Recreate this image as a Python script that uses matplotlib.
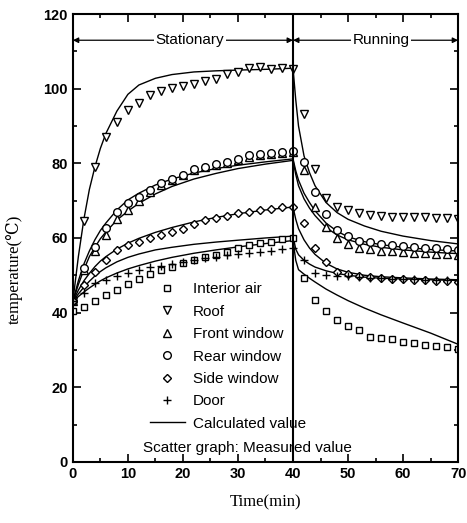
import matplotlib.pyplot as plt
from matplotlib.lines import Line2D

# measured values (scatter)
t_stat = [0, 2, 4, 6, 8, 10, 12, 14, 16, 18, 20, 22, 24, 26, 28, 30, 32, 34, 36, 38, 40]
t_run = [42, 44, 46, 48, 50, 52, 54, 56, 58, 60, 62, 64, 66, 68, 70]

interior_stat = [40.5, 41.6, 43.2, 44.6, 46.1, 47.7, 49, 50.4, 51.4, 52.3, 53.2, 54.1, 55, 55.4, 56.3, 57.2, 58.1, 58.6, 59, 59.6, 59.9]
interior_run = [49.2, 43.4, 40.3, 38, 36.4, 35.4, 33.4, 33.1, 32.9, 32.2, 31.8, 31.3, 31.1, 30.7, 30.2]
roof_stat = [43, 64.5, 79, 87, 91.2, 94.3, 96.2, 98.3, 99.5, 100.1, 100.7, 101.4, 102, 102.6, 103.9, 104.6, 105.5, 105.9, 105.3, 105.5, 105.3]
roof_run = [93.1, 78.4, 70.6, 68.4, 67.5, 66.6, 66.2, 65.9, 65.7, 65.6, 65.5, 65.5, 65.4, 65.3, 65.2]
front_stat = [43, 51.5, 56.5, 60.8, 65, 67.5, 70, 72.3, 74.2, 75.5, 76.9, 78.2, 79, 79.6, 80.2, 81, 81.8, 82.2, 82.6, 82.9, 83.1]
front_run = [78.2, 68.2, 63, 59.9, 58.5, 57.2, 57, 56.6, 56.4, 56.2, 56, 55.9, 55.8, 55.7, 55.5]
rear_stat = [43, 52, 57.7, 62.6, 67, 69.3, 71, 72.9, 74.6, 75.7, 77, 78.4, 79.1, 79.8, 80.4, 81.3, 82.2, 82.5, 82.9, 83.1, 83.4]
rear_run = [80.4, 72.2, 66.4, 62.1, 60.5, 59.2, 58.8, 58.3, 58, 57.8, 57.6, 57.4, 57.2, 57, 56.8]
side_stat = [43, 47.5, 51, 54, 56.8, 58.1, 59, 59.9, 60.8, 61.7, 62.5, 63.8, 64.8, 65.3, 65.9, 66.6, 67, 67.5, 67.8, 68.2, 68.4]
side_run = [64, 57.2, 53.5, 51, 50.4, 49.8, 49.5, 49.3, 49.1, 49, 48.8, 48.7, 48.5, 48.4, 48.3]
door_stat = [43, 45.2, 47.9, 48.8, 49.8, 50.5, 51.4, 52.2, 52.5, 53, 53.5, 54, 54.5, 55, 55.4, 55.8, 56, 56.3, 56.5, 57, 57.2]
door_run = [54.1, 50.7, 50.1, 49.9, 49.7, 49.5, 49.3, 49.2, 49.1, 49, 48.9, 48.8, 48.7, 48.6, 48.6]

# calculated values (lines)
t_calc = [0, 1, 2, 3, 4, 5, 6, 8, 10, 12, 15, 18, 22, 26, 30, 35, 40,
          40.5, 41, 42, 43, 44, 46, 48, 50, 53, 56, 60, 65, 70]
roof_calc = [43, 55, 65, 73, 79, 84, 88, 94, 98.5, 101, 102.8, 103.8, 104.5, 104.8, 105, 105.2, 105.5,
             97, 90, 82, 77.5, 74, 69.5, 66.8, 65, 63.2, 61.8, 60.5, 59.3, 58.4]
rear_calc = [43, 48.5, 53, 56.5, 59.5, 62, 64, 67.5, 70.2, 72, 74.2, 75.8, 77.4, 78.6, 79.5, 80.4, 81.2,
             78, 75.5, 72, 69.5, 67.3, 64, 61.8, 60.3, 59, 58.2, 57.5, 56.9, 56.5]
front_calc = [43, 47.5, 51.5, 55, 57.5, 59.8, 61.6, 64.8, 67.2, 69.3, 71.8, 73.8, 75.8, 77.3, 78.6, 79.8, 80.8,
              77, 74, 70.5, 68, 66, 62.8, 60.8, 59.5, 58.3, 57.5, 56.8, 56.2, 55.8]
side_calc = [43, 46, 48.5, 50.5, 52.3, 53.8, 55, 57, 58.6, 59.9, 61.5, 62.8, 64.3, 65.5, 66.5, 67.5, 68.3,
             65, 62.5, 59.5, 57.3, 55.6, 53.2, 51.7, 50.8, 50, 49.6, 49.3, 49, 48.8]
door_calc = [43, 45, 46.8, 48.4, 49.8, 51, 52, 53.6, 54.8, 55.7, 56.8, 57.5, 58.3, 58.9, 59.4, 60, 60.5,
             57, 55.5, 54, 53, 52.2, 51.2, 50.5, 50, 49.5, 49.2, 49, 48.8, 48.6]
interior_calc = [43, 44.3, 45.5, 46.6, 47.6, 48.5, 49.3, 50.6, 51.7, 52.6, 53.8, 54.8, 55.9, 56.8, 57.6, 58.5, 59.3,
                 54, 51.5, 50.3, 49.2, 48.2, 46.3, 44.7, 43.2, 41.2, 39.4, 37.2, 34.5, 31.5]

labels = ['Interior air', 'Roof', 'Front window', 'Rear window', 'Side window', 'Door']
markers = ['s', 'v', '^', 'o', 'D', '+']
msizes = [5, 6, 6, 5.5, 4.3, 6]

plt.rcParams['font.family'] = ['Liberation Sans', 'DejaVu Sans']
fig = plt.figure(figsize=(4.67, 5.23), dpi=100)
ax = fig.add_axes([0.156, 0.117, 0.825, 0.856])

for ys in [roof_calc, rear_calc, front_calc, side_calc, door_calc, interior_calc]:
    ax.plot(t_calc, ys, color='black', lw=1.0)

series = [(interior_stat, interior_run), (roof_stat, roof_run), (front_stat, front_run),
          (rear_stat, rear_run), (side_stat, side_run), (door_stat, door_run)]
for (ys, yr), m, ms in zip(series, markers, msizes):
    ax.plot(t_stat + t_run, ys + yr, linestyle='none', marker=m, markersize=ms,
            markerfacecolor='white', markeredgecolor='black', markeredgewidth=1.0, color='black')

ax.axvline(40, color='black', lw=1.5)

# phase arrows
ax.annotate('', xy=(0, 113), xytext=(40, 113),
            arrowprops=dict(arrowstyle='<|-|>', color='black', lw=0.9, mutation_scale=8, shrinkA=0, shrinkB=0))
ax.annotate('', xy=(40, 113), xytext=(70, 113),
            arrowprops=dict(arrowstyle='<|-|>', color='black', lw=0.9, mutation_scale=8, shrinkA=0, shrinkB=0))
ax.text(21.3, 113, 'Stationary', ha='center', va='center', fontsize=11,
        bbox=dict(facecolor='white', edgecolor='none', pad=1))
ax.text(56, 113, 'Running', ha='center', va='center', fontsize=11,
        bbox=dict(facecolor='white', edgecolor='none', pad=1))

handles = [Line2D([], [], linestyle='none', marker=m, markersize=ms, markerfacecolor='white',
                  markeredgecolor='black', markeredgewidth=1.0) for m, ms in zip(markers, msizes)]
handles.append(Line2D([], [], color='black', lw=1.0))
leg = ax.legend(handles, labels + ['Calculated value'], loc='upper left', bbox_to_anchor=(0.18, 0.418),
                frameon=False, fontsize=11, handlelength=2.3, handletextpad=0.5,
                labelspacing=0.55, borderpad=0)
ax.text(0.181, 0.03, 'Scatter graph: Measured value', transform=ax.transAxes, fontsize=11,
        ha='left', va='center')

ax.set_xlim(0, 70)
ax.set_ylim(0, 120)
ax.set_xticks(range(0, 71, 10))
ax.set_xticks(range(5, 70, 10), minor=True)
ax.set_yticks(range(0, 121, 20))
ax.set_yticks(range(10, 120, 20), minor=True)
ax.tick_params(which='both', direction='in', top=True, right=True, labelsize=10.5, width=1.2)
ax.tick_params(which='major', length=6)
ax.tick_params(which='minor', length=3)
for s in ax.spines.values():
    s.set_linewidth(1.5)
for lab in ax.get_xticklabels() + ax.get_yticklabels():
    lab.set_fontweight('bold')

ax.set_xlabel('Time(min)', family=['Liberation Serif', 'DejaVu Serif'], fontsize=12, labelpad=10)
ax.set_ylabel('temperature(℃)', family=['Liberation Serif', 'DejaVu Serif'], fontsize=12)
ax.yaxis.set_label_coords(-0.13, 0.43)

fig.savefig('out.png', dpi=100)
